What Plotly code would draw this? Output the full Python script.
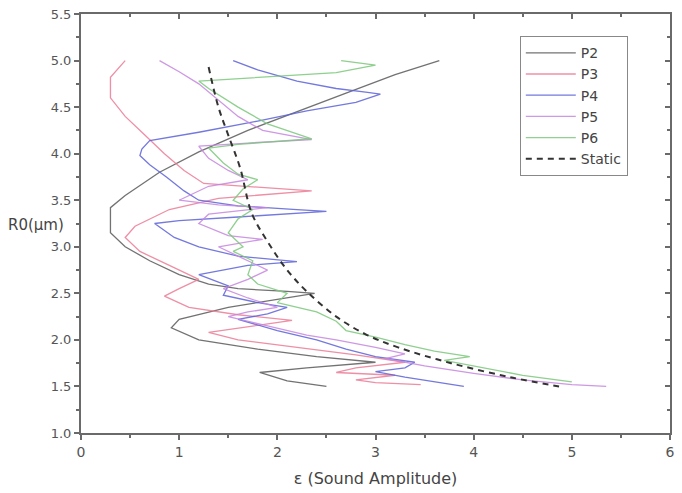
import plotly.graph_objects as go

# Threshold sound amplitude vs. bubble radius, one curve per pressure case
p2_eps = [3.65, 3.2, 2.7, 2.2, 1.7, 1.2, 0.8, 0.45, 0.3, 0.3, 0.45, 0.7, 1.0, 1.3, 1.6, 2.1, 2.38,
          1.5, 1.0, 0.92, 1.2, 1.8, 2.4, 3.0, 2.3, 1.82, 2.1, 2.5]
p2_r0 = [5.0, 4.85, 4.65, 4.45, 4.25, 4.02, 3.8, 3.55, 3.42, 3.15, 3.0, 2.85, 2.7, 2.6, 2.55, 2.52, 2.5,
         2.35, 2.22, 2.13, 2.0, 1.9, 1.82, 1.76, 1.7, 1.65, 1.56, 1.5]

p3_eps = [0.45, 0.3, 0.3, 0.45, 0.65, 0.85, 1.05, 1.25, 2.35, 1.4, 0.9, 0.55, 0.45, 0.6, 0.9, 1.2,
          1.0, 0.85, 1.1, 1.6, 2.15, 1.6, 1.3, 1.6, 2.2, 2.8, 3.3, 2.8, 2.6, 3.2, 2.8, 3.0, 3.46]
p3_r0 = [5.0, 4.82, 4.6, 4.4, 4.2, 4.0, 3.82, 3.68, 3.6, 3.52, 3.4, 3.22, 3.1, 2.95, 2.8, 2.65,
         2.55, 2.47, 2.35, 2.27, 2.21, 2.13, 2.08, 2.0, 1.92, 1.84, 1.76, 1.7, 1.65, 1.62, 1.57, 1.54, 1.52]

p4_eps = [1.55, 1.8, 2.2, 2.6, 2.9, 3.05, 2.8, 2.3, 1.8, 1.2, 0.7, 0.62, 0.6, 0.7, 0.87, 1.05, 1.2,
          1.6, 2.2, 2.5, 1.6, 1.0, 0.75, 0.95, 1.2, 1.6, 2.2, 1.7, 1.2, 1.5, 1.45, 1.8, 2.1, 1.9,
          1.6, 2.0, 2.4, 2.7, 3.0, 3.4, 3.3, 3.0, 3.3, 3.6, 3.9]
p4_r0 = [5.0, 4.9, 4.78, 4.7, 4.66, 4.64, 4.55, 4.46, 4.35, 4.23, 4.14, 4.05, 3.98, 3.88, 3.75, 3.6, 3.5,
         3.44, 3.4, 3.38, 3.32, 3.28, 3.25, 3.1, 3.0, 2.9, 2.84, 2.8, 2.7, 2.58, 2.48, 2.4, 2.35, 2.28,
         2.22, 2.1, 2.0, 1.9, 1.82, 1.76, 1.7, 1.66, 1.6, 1.55, 1.5]

p5_eps = [0.8, 1.0, 1.2, 1.4, 1.6, 1.85, 2.35, 1.8, 1.2, 1.3, 1.5, 1.7, 1.3, 1.0, 1.4, 1.9, 1.3, 1.2,
          1.5, 1.85, 1.4, 1.6, 1.9, 1.7, 1.45, 1.7, 2.0, 1.7, 1.5, 1.9, 2.3, 2.6, 3.0, 3.3, 3.1, 3.5,
          4.0, 4.5, 5.0, 5.35]
p5_r0 = [5.0, 4.88, 4.75, 4.57, 4.4, 4.25, 4.15, 4.12, 4.08, 3.95, 3.82, 3.72, 3.65, 3.5, 3.45, 3.42,
         3.35, 3.25, 3.12, 3.08, 3.0, 2.9, 2.75, 2.65, 2.55, 2.45, 2.35, 2.3, 2.25, 2.15, 2.05, 2.0,
         1.92, 1.85, 1.8, 1.72, 1.64, 1.57, 1.52, 1.5]

p6_eps = [2.65, 3.0, 2.6, 1.8, 1.2, 1.3, 1.6, 1.9, 2.35, 1.6, 1.3, 1.45, 1.6, 1.8, 1.65, 1.55, 1.75,
          1.6, 1.5, 1.65, 1.55, 1.75, 1.7, 1.8, 2.1, 2.0, 2.4, 2.6, 2.7, 3.0, 3.3, 3.6, 3.96, 3.7,
          4.1, 4.5, 5.0]
p6_r0 = [5.0, 4.95, 4.87, 4.82, 4.78, 4.7, 4.5, 4.32, 4.16, 4.1, 4.06, 3.9, 3.78, 3.72, 3.62, 3.5, 3.4,
         3.3, 3.15, 3.0, 2.95, 2.85, 2.7, 2.6, 2.5, 2.4, 2.3, 2.2, 2.1, 2.03, 1.95, 1.88, 1.82, 1.78,
         1.7, 1.62, 1.55]

static_eps = [1.3, 1.4, 1.5, 1.62, 1.74, 1.91, 2.1, 2.3, 2.6, 2.9, 3.23, 3.77, 4.37, 4.87]
static_r0 = [4.93, 4.5, 4.2, 3.85, 3.36, 3.04, 2.75, 2.52, 2.25, 2.06, 1.92, 1.75, 1.6, 1.5]

x_ticks = [0, 1, 2, 3, 4, 5, 6]
y_ticks = [1.0, 1.5, 2.0, 2.5, 3.0, 3.5, 4.0, 4.5, 5.0, 5.5]

series = [
    ("P2", p2_eps, p2_r0, "#5a5a5a"),
    ("P3", p3_eps, p3_r0, "#ec7c96"),
    ("P4", p4_eps, p4_r0, "#5c62d8"),
    ("P5", p5_eps, p5_r0, "#c687e0"),
    ("P6", p6_eps, p6_r0, "#7cc87c"),
]

fig = go.Figure()
for name, xs, ys, color in series:
    fig.add_trace(go.Scatter(x=xs, y=ys, mode="lines", name=name, opacity=0.85,
                             line=dict(color=color, width=1.3)))
fig.add_trace(go.Scatter(x=static_eps, y=static_r0, mode="lines", name="Static",
                         line=dict(color="#333333", width=2, dash="6px,5px", shape="spline")))

# empty traces so the top and right frame axes (inward ticks) get drawn
fig.add_trace(go.Scatter(x=[], y=[], xaxis="x2", yaxis="y", showlegend=False, hoverinfo="skip"))
fig.add_trace(go.Scatter(x=[], y=[], xaxis="x", yaxis="y2", showlegend=False, hoverinfo="skip"))

axis_color = "#6a6a6a"
FONT = "DejaVu Sans, Liberation Sans, Arial, sans-serif"

fig.update_layout(
    width=682, height=493,
    margin=dict(l=81, r=7, t=14, b=60),
    paper_bgcolor="white", plot_bgcolor="white",
    font=dict(family=FONT, color="#555555", size=13),
    showlegend=True,
    legend=dict(x=0.745, y=0.947, xanchor="left", yanchor="top",
                bordercolor="#888888", borderwidth=1, bgcolor="white",
                font=dict(family=FONT, size=14, color="#444444"), tracegroupgap=0,
                itemwidth=50),
    xaxis=dict(range=[0, 6], tickvals=x_ticks, ticktext=[str(v) for v in x_ticks],
               showgrid=False, zeroline=False, showline=True, linecolor=axis_color, linewidth=2,
               ticks="outside", ticklen=5, tickwidth=1.5, tickcolor=axis_color,
               tickfont=dict(size=14),
               minor=dict(dtick=0.5, ticks="outside", ticklen=3, tickcolor=axis_color, tickwidth=1.5),
               title=dict(text="ε (Sound Amplitude)", font=dict(size=16, color="#444444"), standoff=14)),
    yaxis=dict(range=[1.0, 5.5], tickvals=y_ticks, ticktext=[f"{v:.1f}" for v in y_ticks],
               showgrid=False, zeroline=False, showline=True, linecolor=axis_color, linewidth=2,
               ticks="outside", ticklen=5, tickwidth=1.5, tickcolor=axis_color,
               tickfont=dict(size=13),
               minor=dict(dtick=0.25, ticks="outside", ticklen=3, tickcolor=axis_color, tickwidth=1.5)),
    xaxis2=dict(range=[0, 6], overlaying="x", side="top", anchor="y", showticklabels=False,
                tickvals=x_ticks, showgrid=False, zeroline=False, showline=True,
                linecolor=axis_color, linewidth=2, ticks="inside", ticklen=5, tickwidth=1.5,
                tickcolor=axis_color,
                minor=dict(dtick=0.5, ticks="inside", ticklen=3, tickcolor=axis_color, tickwidth=1.5)),
    yaxis2=dict(range=[1.0, 5.5], overlaying="y", side="right", anchor="x", showticklabels=False,
                tickvals=y_ticks, showgrid=False, zeroline=False, showline=True,
                linecolor=axis_color, linewidth=2, ticks="inside", ticklen=5, tickwidth=1.5,
                tickcolor=axis_color,
                minor=dict(dtick=0.25, ticks="inside", ticklen=3, tickcolor=axis_color, tickwidth=1.5)),
    annotations=[dict(text="R0(μm)", xref="paper", yref="paper", x=-0.127, y=0.497,
                      xanchor="left", yanchor="middle", showarrow=False,
                      font=dict(family=FONT, size=15, color="#444444"))],
)

fig.write_html("out.html")
